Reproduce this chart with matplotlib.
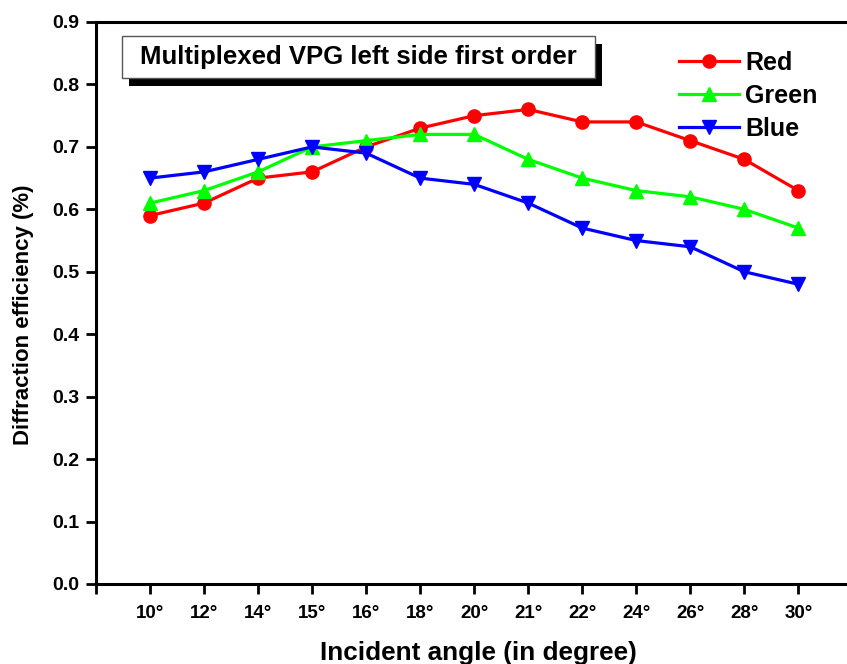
import matplotlib
matplotlib.use("Agg")
import matplotlib.pyplot as plt
import numpy as np
from matplotlib.patches import Rectangle

# dados
angulos = ["10°", "12°", "14°", "15°", "16°", "18°", "20°", "21°", "22°", "24°", "26°", "28°", "30°"]
red = [0.59, 0.61, 0.65, 0.66, 0.70, 0.73, 0.75, 0.76, 0.74, 0.74, 0.71, 0.68, 0.63]
green = [0.61, 0.63, 0.66, 0.70, 0.71, 0.72, 0.72, 0.68, 0.65, 0.63, 0.62, 0.60, 0.57]
blue = [0.65, 0.66, 0.68, 0.70, 0.69, 0.65, 0.64, 0.61, 0.57, 0.55, 0.54, 0.50, 0.48]
titulo = "Multiplexed VPG left side first order"

plt.rcParams["font.family"] = ["Liberation Sans", "DejaVu Sans"]
plt.rcParams["font.weight"] = "bold"

W, H = 847, 664
fig = plt.figure(figsize=(W / 100, H / 100), dpi=100)
ax = fig.add_axes([96 / W, 1 - 584 / H, 1 - 96 / W, (584 - 22) / H])

pos = np.arange(1, len(angulos) + 1)
ax.plot(pos, red, color="#ff0000", lw=2.3, marker="o", ms=9.5, label="Red")
ax.plot(pos, green, color="#00ff00", lw=2.3, marker="^", ms=10.5, label="Green")
ax.plot(pos, blue, color="#0000ff", lw=2.3, marker="v", ms=10.5, label="Blue")

ax.set_xlim(0, 13.9)
ax.set_ylim(0, 0.9)
ax.set_xticks(np.arange(0, len(angulos) + 1))
ax.set_xticklabels([""] + angulos, fontweight="bold", fontsize=13.5)
ax.set_yticks(np.arange(0, 0.91, 0.1))
ax.set_yticklabels(["%.1f" % v for v in np.arange(0, 0.91, 0.1)], fontweight="bold", fontsize=14)
ax.tick_params(direction="out", length=7, width=2, pad=5)
ax.tick_params(axis="x", pad=8)
for s in ["left", "bottom", "top"]:
    ax.spines[s].set_linewidth(2.2)
ax.spines["right"].set_visible(False)

ax.set_xlabel("Incident angle (in degree)", fontweight="bold", fontsize=18.8)
ax.xaxis.set_label_coords(0.509, -0.101)
ax.set_ylabel("Diffraction efficiency (%)", fontweight="bold", fontsize=16)
ax.yaxis.set_label_coords(-0.083, 0.479)

# caixa do título com sombra
fig.patches.append(Rectangle((129 / W, 1 - 86 / H), (595 - 122) / W, (78 - 36) / H,
                             transform=fig.transFigure, facecolor="black", edgecolor="none"))
fig.patches.append(Rectangle((122 / W, 1 - 78 / H), (595 - 122) / W, (78 - 36) / H,
                             transform=fig.transFigure, facecolor="white", edgecolor="#555555", lw=1))
fig.text((122 + 595) / 2 / W, 1 - 57 / H, titulo, ha="center", va="center",
         fontsize=18.5, fontweight="bold")

ax.legend(loc="upper left", bbox_to_anchor=(679 / W, 1 - 51 / H), bbox_transform=fig.transFigure,
          frameon=False, prop={"weight": "bold", "size": 18}, handlelength=2.4,
          handletextpad=0.25, labelspacing=0.35, borderpad=0, borderaxespad=0)

fig.savefig("out.png", dpi=100)
